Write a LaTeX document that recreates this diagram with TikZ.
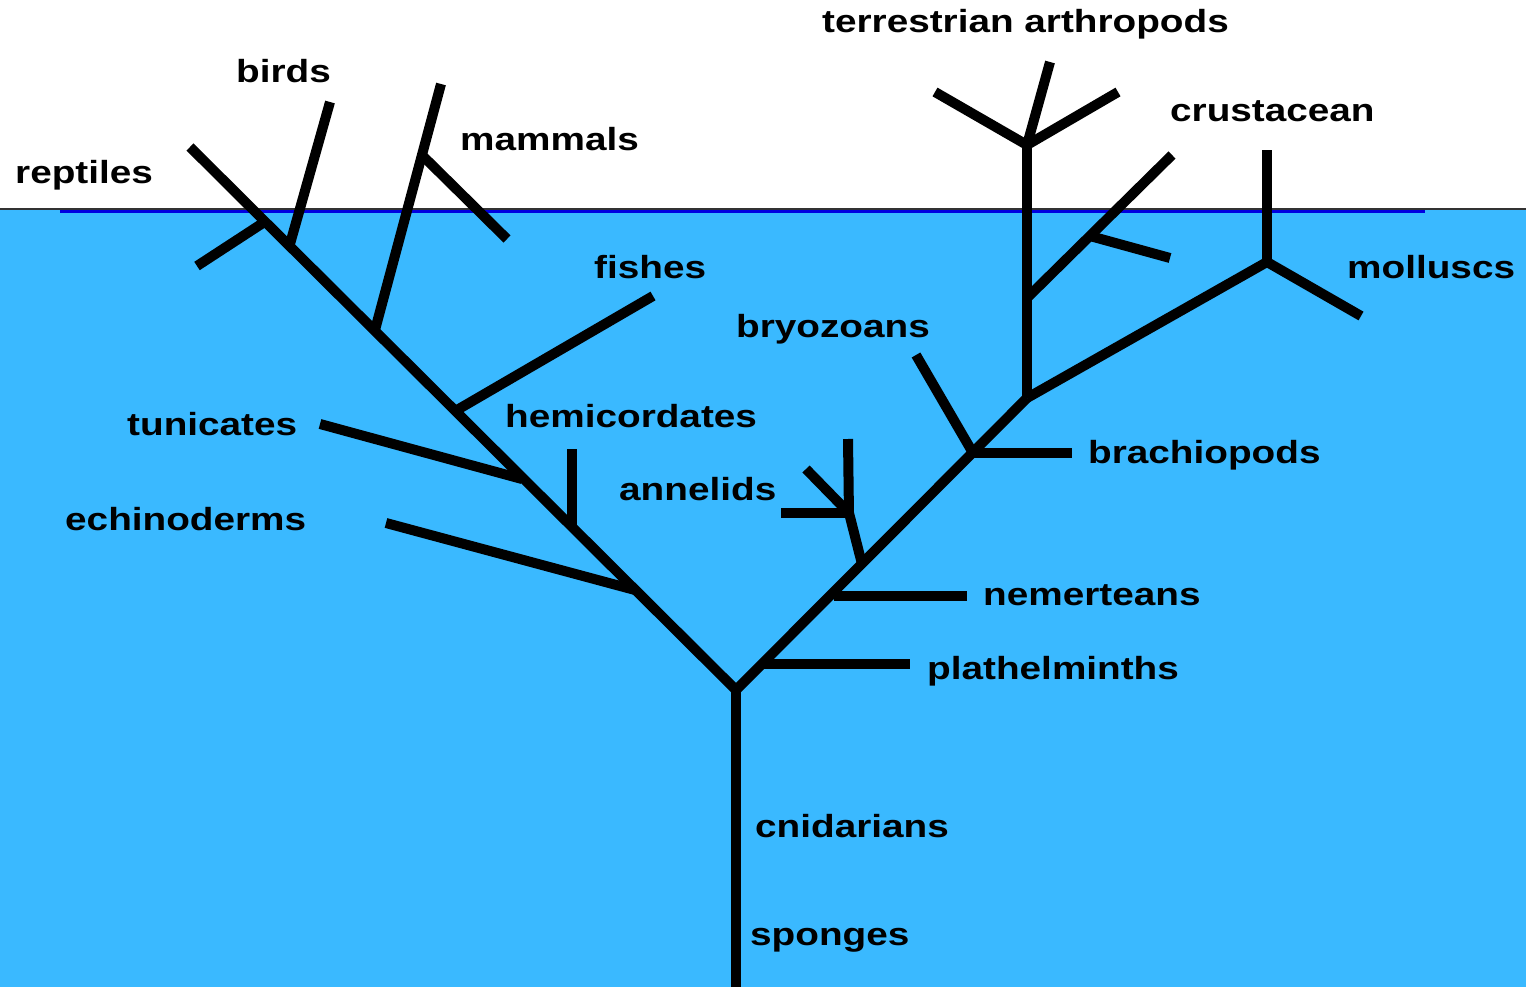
\documentclass[tikz,border=0pt]{standalone}
\usepackage{fontspec}
\setmainfont{Liberation Sans}[FakeStretch=1.21]
\usetikzlibrary{calc}
\definecolor{water}{RGB}{58,185,255}
\definecolor{surf}{RGB}{0,0,225}
\begin{document}
\begin{tikzpicture}[x=1pt,y=-1pt,
  br/.style={line width=10pt,line cap=butt,line join=miter,black},
  lbl/.style={inner sep=0pt,anchor=base west,font=\fontsize{32}{38}\selectfont\bfseries}]
\useasboundingbox (0,0) rectangle (1526,987);
% water
\fill[water] (0,209) rectangle (1526,987);
\draw[line width=1.5pt,black!80] (0,209) -- (1526,209);
\draw[line width=2.5pt,surf] (60,211.5) -- (1425,211.5);
% coordinates
\coordinate (base) at (736,987);
\coordinate (R) at (736,690);
\coordinate (L1) at (635,590);
\coordinate (L2) at (572,526);
\coordinate (L3) at (522,479);
\coordinate (L4) at (457,410);
\coordinate (L5) at (375,330);
\coordinate (L6) at (290,244);
\coordinate (L7) at (266,221);
\coordinate (Ltop) at (190,147);
\coordinate (echE) at (386,523);
\coordinate (hemE) at (572,449);
\coordinate (tunE) at (320,424);
\coordinate (fisE) at (653,296);
\coordinate (mamE) at (441,84);
\coordinate (M) at ($(L5)!0.711!(mamE)$);
\coordinate (mamS) at (507,239);
\coordinate (birE) at (330,102);
\coordinate (repE) at (197,266);
\coordinate (A) at (1027,398);
\coordinate (P1) at (762,664);
\coordinate (P1E) at (910,664);
\coordinate (N1) at (834,596);
\coordinate (N1E) at (967,596);
\coordinate (An) at (862,564);
\coordinate (AnJ) at (849,513);
\coordinate (AnH) at (781,513);
\coordinate (AnV) at (848,439);
\coordinate (AnD) at (806,469);
\coordinate (B) at (973,453);
\coordinate (BE) at (1072,453);
\coordinate (BrE) at (916,355);
\coordinate (T) at (1027,145);
\coordinate (TL) at (935,92);
\coordinate (TR) at (1118,92);
\coordinate (TU) at (1050,62);
\coordinate (C) at (1027,298);
\coordinate (CE) at (1172,155);
\coordinate (CS) at (1090,236);
\coordinate (CSE) at (1170,258);
\coordinate (Mol) at (1267,262);
\coordinate (MolU) at (1267,150);
\coordinate (MolR) at (1361,316);
% trunk and main branches
\draw[br] (base) -- (R);
\draw[br] (R) -- (Ltop);
\draw[br] (R) -- (A);
% left side branches
\draw[br] (L1) -- (echE);
\draw[br] (L2) -- (hemE);
\draw[br] (L3) -- (tunE);
\draw[br] (L4) -- (fisE);
\draw[br] (L5) -- (mamE);
\draw[br] (M) -- (mamS);
\draw[br] (L6) -- (birE);
\draw[br] (L7) -- (repE);
% right side branches
\draw[br] (P1) -- (P1E);
\draw[br] (N1) -- (N1E);
\draw[br] (An) -- (AnJ);
\draw[br] (AnJ) -- (AnH);
\draw[br] ($(AnJ)+(0,3)$) -- (AnV);
\draw[br] (AnJ) -- (AnD);
\draw[br] (B) -- (BE);
\draw[br] (B) -- (BrE);
\draw[br] (A) -- (T);
\draw[br] (T) -- (TL);
\draw[br] (T) -- (TR);
\draw[br] (T) -- (TU);
\draw[br] (C) -- (CE);
\draw[br] (CS) -- (CSE);
\draw[br] (A) -- (Mol);
\draw[br] (Mol) -- (MolU);
\draw[br] (Mol) -- (MolR);
% labels
\node[lbl] (reptiles) at (15,184) {reptiles};
\node[lbl] (birds) at (236,83) {birds};
\node[lbl] (mammals) at (460,151) {mammals};
\node[lbl] (fishes) at (594,278) {fishes};
\node[lbl] (tunicates) at (127,435) {tunicates};
\node[lbl] (hemicordates) at (505,427) {hemicordates};
\node[lbl] (echinoderms) at (65,530) {echinoderms};
\node[lbl] (annelids) at (619,500) {annelids};
\node[lbl] (bryozoans) at (736,337) {bryozoans};
\node[lbl] (terr) at (822,33) {terrestrian arthropods};
\node[lbl] (crustacean) at (1170,122) {crustacean};
\node[lbl] (molluscs) at (1347,278) {molluscs};
\node[lbl] (brachiopods) at (1088,463) {brachiopods};
\node[lbl] (nemerteans) at (983,605) {nemerteans};
\node[lbl] (plathelminths) at (927,679) {plathelminths};
\node[lbl] (cnidarians) at (755,837) {cnidarians};
\node[lbl] (sponges) at (750,945) {sponges};
\end{tikzpicture}
\end{document}
